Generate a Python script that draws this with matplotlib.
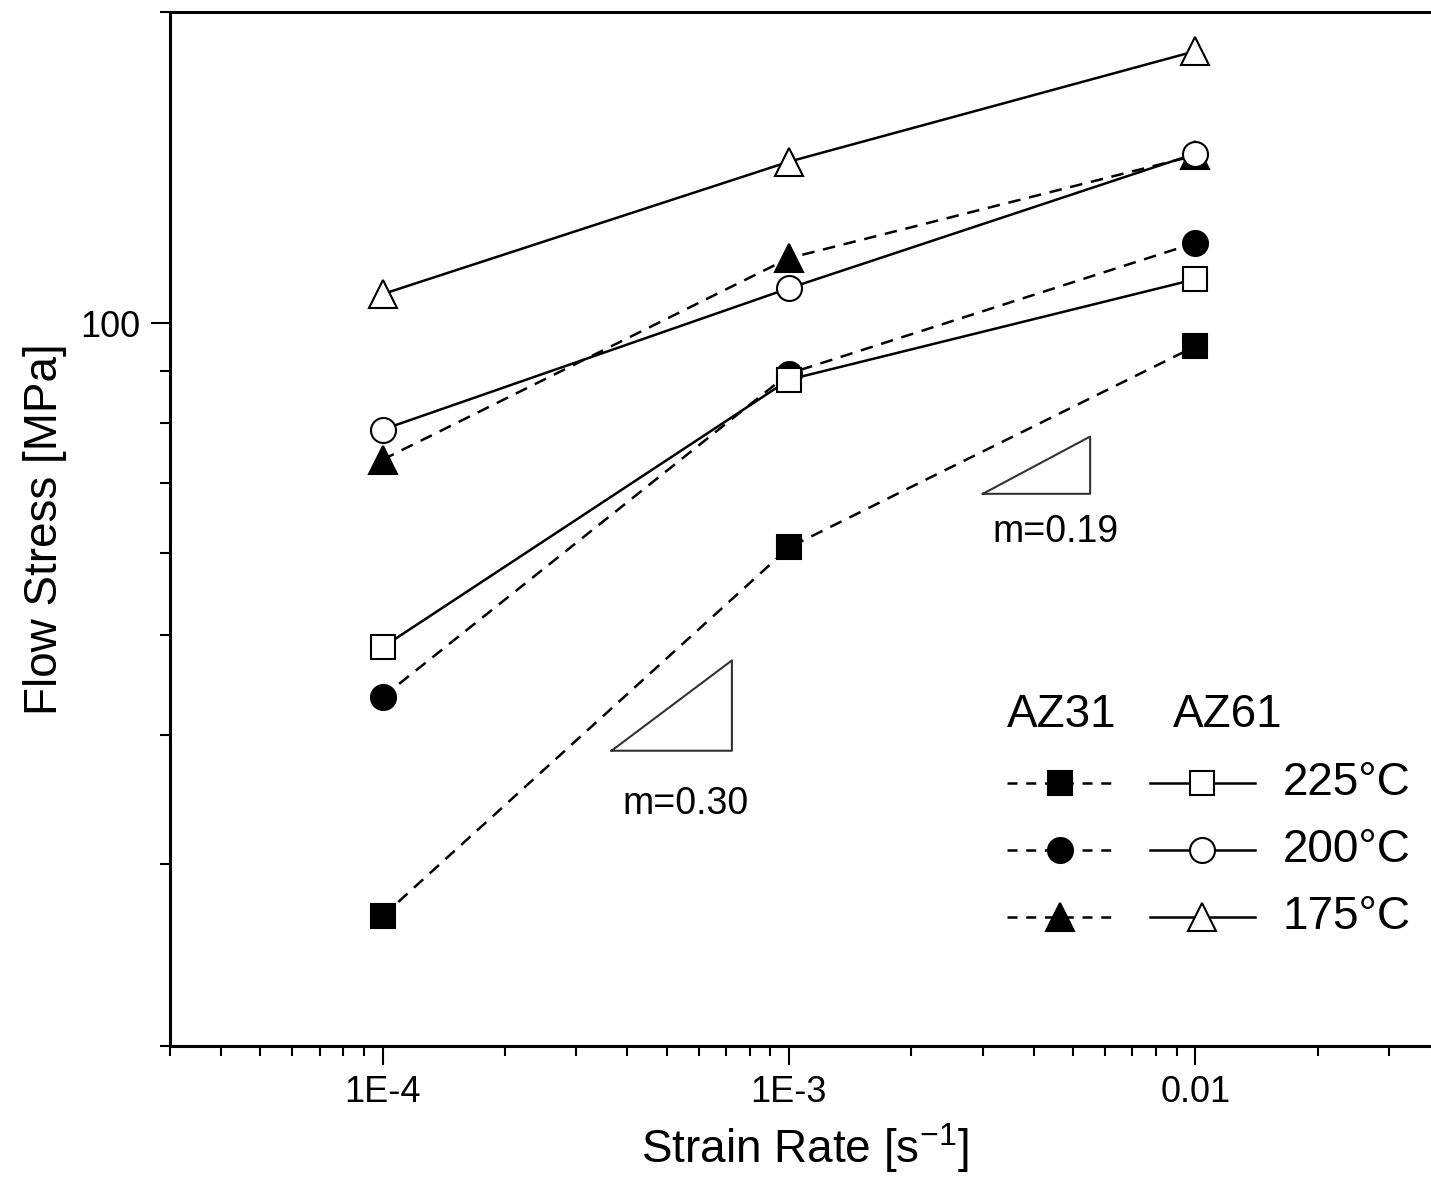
import matplotlib
matplotlib.use("Agg")
import matplotlib.pyplot as plt
from matplotlib.lines import Line2D
from matplotlib.ticker import FixedLocator, NullFormatter, FixedFormatter

plt.rcParams["font.family"] = ["Liberation Sans", "DejaVu Sans"]
plt.rcParams["mathtext.default"] = "regular"

# data
strain_rate = [1e-4, 1e-3, 1e-2]
temp_labels = ["225°C", "200°C", "175°C"]
markers = ["s", "o", "^"]
marker_sizes = [17, 18, 20]
az31_225 = [26.7, 60.7, 95.0]
az31_200 = [43.5, 89.4, 119.6]
az31_175 = [73.8, 115.6, 145.3]
az61_225 = [48.6, 88.2, 110.3]
az61_200 = [78.9, 108.1, 145.9]
az61_175 = [106.7, 143.3, 183.3]
az31 = [az31_225, az31_200, az31_175]
az61 = [az61_225, az61_200, az61_175]

# slope triangles (m=0.30 and m=0.19)
tri30_x = [3.66e-4, 7.24e-4, 7.24e-4, 3.66e-4]
tri30_y = [38.6, 38.6, 47.2, 38.6]
tri19_x = [3.0e-3, 5.51e-3, 5.51e-3, 3.0e-3]
tri19_y = [68.4, 68.4, 77.7, 68.4]

W, H = 1431, 1181
fig = plt.figure(figsize=(W / 100, H / 100), dpi=100)
ax = fig.add_axes([170 / W, 1 - 1046 / H, 1270 / W, 1034 / H])

lw = 1.8
dash = (5, 3.5)
for ys, m, ms in zip(az31, markers, marker_sizes):
    ax.plot(strain_rate, ys, color="black", lw=lw, dashes=dash, marker=m,
            ms=ms, mfc="black", mec="black", mew=1.5, zorder=3)
for ys, m, ms in zip(az61, markers, marker_sizes):
    ax.plot(strain_rate, ys, color="black", lw=lw, ls="-", marker=m,
            ms=ms, mfc="white", mec="black", mew=1.5, zorder=4)

ax.plot(tri30_x, tri30_y, color="#333333", lw=1.5)
ax.plot(tri19_x, tri19_y, color="#333333", lw=1.5)
ax.text(5.58e-4, 34.3, "m=0.30", fontsize=27, ha="center", va="center")
ax.text(4.52e-3, 62.8, "m=0.19", fontsize=27, ha="center", va="center")

ax.set_xscale("log")
ax.set_yscale("log")
ax.set_xlim(3e-5, 0.04)
ax.set_ylim(20, 200)

ax.xaxis.set_major_locator(FixedLocator([1e-4, 1e-3, 1e-2]))
ax.xaxis.set_major_formatter(FixedFormatter(["1E-4", "1E-3", "0.01"]))
xminor = [k * 10.0 ** e for e in (-5, -4, -3, -2) for k in range(2, 10)]
ax.xaxis.set_minor_locator(FixedLocator(xminor))
ax.xaxis.set_minor_formatter(NullFormatter())
ax.yaxis.set_major_locator(FixedLocator([100]))
ax.yaxis.set_major_formatter(FixedFormatter(["100"]))
ax.yaxis.set_minor_locator(FixedLocator([20, 30, 40, 50, 60, 70, 80, 90, 200]))
ax.yaxis.set_minor_formatter(NullFormatter())

ax.tick_params(which="both", direction="out", width=1.5, top=False, right=False)
ax.tick_params(which="major", length=14, labelsize=26, pad=7)
ax.tick_params(which="minor", length=7)
for s in ax.spines.values():
    s.set_linewidth(2.2)

ax.set_xlabel("Strain Rate [s$^{-1}$]", fontsize=33, labelpad=8)
ax.set_ylabel("Flow Stress [MPa]", fontsize=33, labelpad=10)


# hand-built legend, placed in pixel coordinates of the figure
def fpx(x, y):
    return x / W, 1 - y / H


fig.text(*fpx(1062, 715), "AZ31", fontsize=33, ha="center", va="center")
fig.text(*fpx(1228, 715), "AZ61", fontsize=33, ha="center", va="center")
for i, (m, ms, lab) in enumerate(zip(markers, marker_sizes, temp_labels)):
    yrow = 783 + i * 67
    x0, y0 = fpx(1007, yrow)
    x1, _ = fpx(1115, yrow)
    xm, _ = fpx(1060, yrow)
    fig.add_artist(Line2D([x0, x1], [y0, y0], color="black", lw=lw, dashes=(4, 3.5)))
    fig.add_artist(Line2D([xm], [y0], marker=m, ms=ms, mfc="black", mec="black", mew=1.5))
    x0, _ = fpx(1150, yrow)
    x1, _ = fpx(1255, yrow)
    xm, _ = fpx(1202, yrow)
    fig.add_artist(Line2D([x0, x1], [y0, y0], color="black", lw=lw))
    fig.add_artist(Line2D([xm], [y0], marker=m, ms=ms, mfc="white", mec="black", mew=1.5))
    fig.text(*fpx(1283, yrow), lab, fontsize=33, ha="left", va="center")

fig.savefig("out.png", dpi=100)
